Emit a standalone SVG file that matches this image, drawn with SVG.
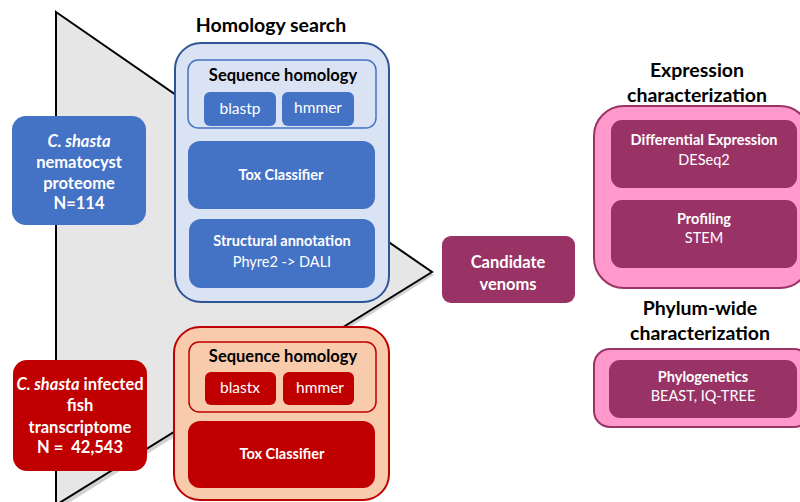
<svg xmlns="http://www.w3.org/2000/svg" width="800" height="502" viewBox="0 0 800 502">
<style>
text{font-family:Lato,"Open Sans","Liberation Sans",sans-serif;text-anchor:middle;white-space:pre}
.w{fill:#ffffff}
.b{font-weight:bold}
.t{font-size:19.5px;font-weight:bold;fill:#000}
.bluef{fill:#4472c4}
.redf{fill:#c00000}
.magf{fill:#993366}
</style>
<rect width="800" height="502" fill="#ffffff"/>
<g id="funnel">
<polygon points="57,13 432,272 57,506" fill="#000" opacity="0.18" transform="translate(2,3)"/>
<polygon points="56,12 432,272 56,505" fill="#e6e6e6" stroke="#000" stroke-width="2" stroke-linejoin="miter"/>
</g>
<g id="title-homology"><text class="t" x="271" y="32">Homology search</text></g>
<g id="homology-blue">
<rect x="175" y="43" width="214" height="259" rx="26" fill="#dae3f3" stroke="#2f5597" stroke-width="2"/>
<rect x="188" y="60" width="188" height="68" rx="10" fill="#dae3f3" stroke="#4472c4" stroke-width="1.5"/>
<text class="b" x="283" y="81" font-size="16.5">Sequence homology</text>
<rect class="bluef" x="204" y="92" width="72" height="34" rx="6"/>
<text class="w" x="240" y="114" font-size="15.5">blastp</text>
<rect class="bluef" x="282" y="92" width="72" height="34" rx="6"/>
<text class="w" x="318" y="113" font-size="15.5">hmmer</text>
<rect class="bluef" x="188" y="141" width="187" height="68" rx="12"/>
<text class="w b" x="281" y="180" font-size="14.5">Tox Classifier</text>
<rect class="bluef" x="189" y="219" width="186" height="69" rx="12"/>
<text class="w b" x="282" y="246" font-size="14.5">Structural annotation</text>
<text class="w" x="282" y="267" font-size="14.5">Phyre2 -&gt; DALI</text>
</g>
<g id="proteome">
<rect class="bluef" x="12" y="116" width="134" height="109" rx="14"/>
<text class="w b" x="79" y="147" font-size="16.5"><tspan font-style="italic">C. shasta</tspan></text>
<text class="w b" x="79" y="168" font-size="16.5">nematocyst</text>
<text class="w b" x="79" y="189" font-size="16.5">proteome</text>
<text class="w b" x="79" y="209" font-size="16.5">N=114</text>
</g>
<g id="homology-red">
<rect x="174" y="327" width="215" height="173" rx="26" fill="#f8cbad" stroke="#c00000" stroke-width="2"/>
<rect x="189" y="342" width="187" height="70" rx="10" fill="#f8cbad" stroke="#c00000" stroke-width="1.5"/>
<text class="b" x="283" y="362" font-size="16.5">Sequence homology</text>
<rect class="redf" x="205" y="372" width="71" height="33" rx="6"/>
<text class="w" x="240" y="393" font-size="15.5">blastx</text>
<rect class="redf" x="283" y="372" width="71" height="33" rx="6"/>
<text class="w" x="320" y="393" font-size="15.5">hmmer</text>
<rect class="redf" x="188" y="421" width="187" height="67" rx="12"/>
<text class="w b" x="282" y="459" font-size="14.5">Tox Classifier</text>
</g>
<g id="transcriptome">
<rect class="redf" x="13" y="360" width="134" height="111" rx="14"/>
<text class="w b" x="80" y="390" font-size="16.5"><tspan font-style="italic">C. shasta</tspan> infected</text>
<text class="w b" x="80" y="411" font-size="16.5">fish</text>
<text class="w b" x="80" y="433" font-size="16.5">transcriptome</text>
<text class="w b" x="80" y="453" font-size="16.5">N =  42,543</text>
</g>
<g id="candidate">
<rect class="magf" x="442" y="236" width="133" height="67" rx="9"/>
<text class="w b" x="508" y="268" font-size="16.5">Candidate</text>
<text class="w b" x="508" y="290" font-size="16.5">venoms</text>
</g>
<g id="title-expression">
<text class="t" x="697" y="77">Expression</text>
<text class="t" x="697" y="102">characterization</text>
</g>
<g id="expression">
<rect x="594" y="106" width="216" height="182" rx="30" fill="#ff99cc" stroke="#993366" stroke-width="2"/>
<rect class="magf" x="611" y="120" width="186" height="68" rx="11"/>
<text class="w b" x="704" y="145" font-size="14.5">Differential Expression</text>
<text class="w" x="704" y="165" font-size="14.5">DESeq2</text>
<rect class="magf" x="611" y="200" width="186" height="68" rx="11"/>
<text class="w b" x="704" y="224" font-size="14.5">Profiling</text>
<text class="w" x="704" y="243" font-size="14.5">STEM</text>
</g>
<g id="title-phylum">
<text class="t" x="700" y="315">Phylum-wide</text>
<text class="t" x="700" y="340">characterization</text>
</g>
<g id="phylum">
<rect x="594" y="349" width="216" height="78" rx="16" fill="#ff99cc" stroke="#993366" stroke-width="2"/>
<rect class="magf" x="609" y="360" width="188" height="58" rx="11"/>
<text class="w b" x="703" y="382" font-size="14.5">Phylogenetics</text>
<text class="w" x="703" y="401" font-size="14.5">BEAST, IQ-TREE</text>
</g>
<g id="connectors"></g>
</svg>
